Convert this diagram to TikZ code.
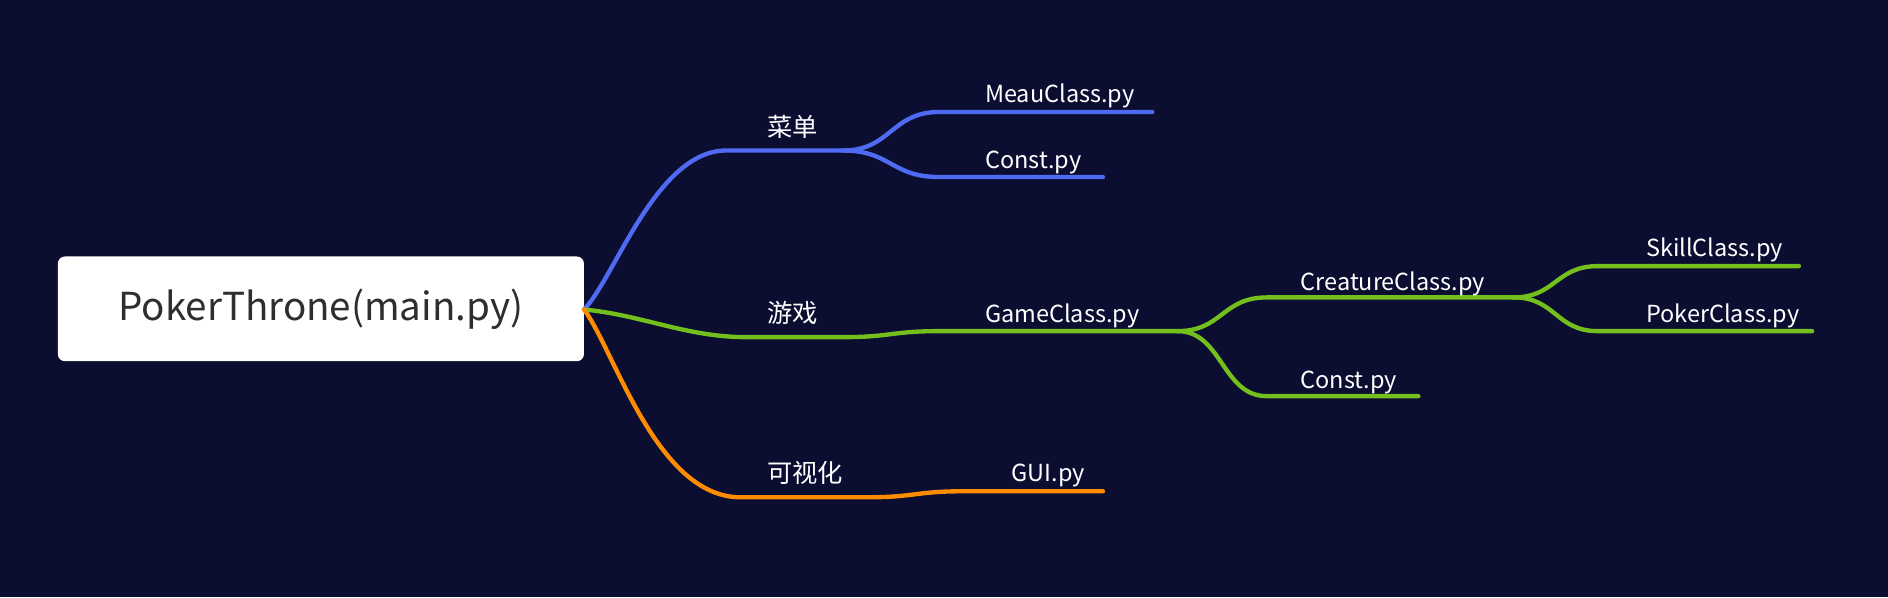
\documentclass[tikz,border=0pt]{standalone}
\usepackage{fontspec}
\setmainfont{Noto Sans CJK SC}
\definecolor{bg}{HTML}{0B0E30}
\definecolor{cblue}{HTML}{4F6BF3}
\definecolor{cgreen}{HTML}{72BF1D}
\definecolor{corange}{HTML}{FF8C00}
\definecolor{roottext}{HTML}{2E2E2E}
\begin{document}
\begin{tikzpicture}[x=1pt,y=-1pt,
  rootbox/.style={fill=white,rounded corners=6pt,minimum width=437pt,minimum height=87pt,inner sep=0pt,text=roottext,font=\fontsize{32}{38}\selectfont},
  lbl/.style={text=white,font=\fontsize{19.5}{24}\selectfont,inner sep=0pt,anchor=base west},
  cjk/.style={text=white,font=\fontsize{21}{25}\selectfont,inner sep=0pt,anchor=base west},
  br/.style={line width=3.6pt,line cap=round}]
\useasboundingbox (0,0) rectangle (1568,496);
\fill[bg] (0,0) rectangle (1568,496);
% root
\node[rootbox] (root) at (266.5,256.5) {PokerThrone(main.py)};
\coordinate (R) at (485,257);
% blue branch
\coordinate (m1) at (603,125);
\coordinate (m2) at (700,125);
\coordinate (m3a) at (780,93);
\coordinate (m3b) at (957,93);
\coordinate (m4a) at (780,147);
\coordinate (m4b) at (916,147);
\draw[br,cblue] (R) .. controls (510,232) and (545,125) .. (m1) -- (m2);
\draw[br,cblue] (m2) .. controls (740,125) and (740,93) .. (m3a) -- (m3b);
\draw[br,cblue] (m2) .. controls (740,125) and (740,147) .. (m4a) -- (m4b);
\node[cjk] (caidan) at (637,113) {菜单};
\node[lbl] (meau) at (818,85) {MeauClass.py};
\node[lbl] (const1) at (818,140) {Const.py};
% green branch
\coordinate (g1) at (620,280);
\coordinate (g2) at (700,280);
\coordinate (g3) at (780,275);
\coordinate (g4) at (978,275);
\coordinate (c1) at (1052,247);
\coordinate (c2) at (1257,247);
\coordinate (k1) at (1052,329);
\coordinate (k2) at (1178,329);
\coordinate (s1) at (1327,221);
\coordinate (s2) at (1494,221);
\coordinate (p1) at (1327,275);
\coordinate (p2) at (1505,275);
\draw[br,cgreen] (R) .. controls (535,262) and (570,280) .. (g1) -- (g2)
  .. controls (740,280) and (740,275) .. (g3) -- (g4);
\draw[br,cgreen] (g4) .. controls (1015,275) and (1015,247) .. (c1) -- (c2);
\draw[br,cgreen] (g4) .. controls (1015,275) and (1015,329) .. (k1) -- (k2);
\draw[br,cgreen] (c2) .. controls (1292,247) and (1292,221) .. (s1) -- (s2);
\draw[br,cgreen] (c2) .. controls (1292,247) and (1292,275) .. (p1) -- (p2);
\node[cjk] (youxi) at (637,268) {游戏};
\node[lbl] (game) at (818,268) {GameClass.py};
\node[lbl] (creature) at (1080,241) {CreatureClass.py};
\node[lbl] (const2) at (1080,323) {Const.py};
\node[lbl] (skill) at (1367,213) {SkillClass.py};
\node[lbl] (poker) at (1367,268) {PokerClass.py};
% orange branch
\coordinate (o1) at (615,413);
\coordinate (o2) at (720,413);
\coordinate (o3) at (800,408);
\coordinate (o4) at (916,408);
\draw[br,corange] (R) .. controls (510,290) and (545,413) .. (o1) -- (o2)
  .. controls (760,413) and (760,408) .. (o3) -- (o4);
\node[cjk] (keshihua) at (637,401) {可视化};
\node[lbl] (gui) at (840,400) {GUI.py};
\end{tikzpicture}
\end{document}
